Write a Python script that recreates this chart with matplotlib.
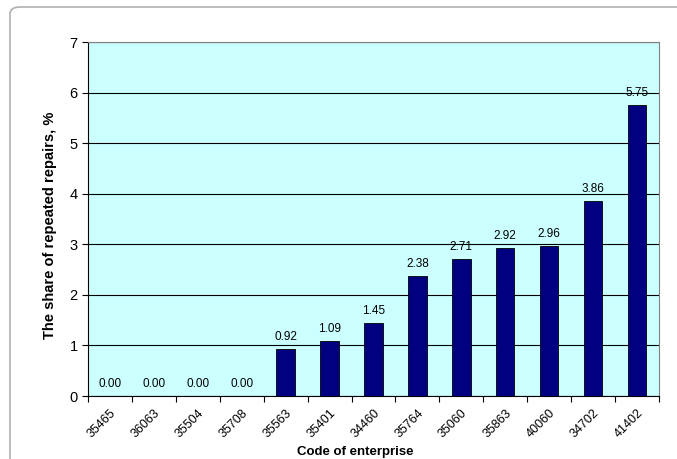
import matplotlib.pyplot as plt
import matplotlib.transforms as mtransforms
from matplotlib.patches import FancyBboxPatch

codes = ['35465', '36063', '35504', '35708', '35563', '35401', '34460',
         '35764', '35060', '35863', '40060', '34702', '41402']
shares = [0.00, 0.00, 0.00, 0.00, 0.92, 1.09, 1.45, 2.38, 2.71, 2.92, 2.96, 3.86, 5.75]

plt.rcParams['font.family'] = ['Liberation Sans', 'DejaVu Sans']

fig = plt.figure(figsize=(6.77, 4.59), dpi=100)

# rounded grey frame around the whole chart
frame = FancyBboxPatch((10 / 677, -0.05), 1.2, 1.05 - 7 / 459,
                       boxstyle='round,pad=0,rounding_size=0.015',
                       transform=fig.transFigure, facecolor='none',
                       edgecolor='#b0b0b0', linewidth=1.2)
fig.patches.append(frame)

ax = fig.add_axes([88 / 677, 1 - 396 / 459, (659 - 88) / 677, (396 - 42) / 459])
ax.set_facecolor('#CCFFFF')

x = list(range(len(codes)))
ax.bar(x, shares, width=0.42, color='#000080', edgecolor='black', linewidth=0.6, zorder=3)

for xi, v in zip(x, shares):
    ax.text(xi, v + 0.12, f'{v:.2f}', ha='center', va='bottom', fontsize=8.5, zorder=4)

ax.set_xlim(-0.5, len(codes) - 0.5)
ax.set_ylim(0, 7)
ax.set_yticks(range(0, 8))
ax.yaxis.grid(True, color='black', linewidth=0.8, zorder=1)
ax.tick_params(axis='y', labelsize=10.5, length=4)
ax.set_xticks([i - 0.5 for i in range(len(codes) + 1)])
ax.set_xticklabels([])
ax.tick_params(axis='x', which='major', length=4)

# rotated category labels ending near the middle of each category
lab_tr = ax.get_xaxis_transform() + mtransforms.ScaledTranslation(3 / 72, -11 / 72, fig.dpi_scale_trans)
for xi, c in zip(x, codes):
    ax.text(xi, 0, c, transform=lab_tr, rotation=45, rotation_mode='anchor',
            ha='right', va='center', fontsize=9)

for s in ['top', 'right']:
    ax.spines[s].set_color('#808080')
ax.spines['left'].set_color('black')
ax.spines['bottom'].set_color('black')

fig.text(355 / 677, 1 - 452 / 459, 'Code of enterprise', fontsize=9.5,
         fontweight='bold', ha='center', va='center')
fig.text(50 / 677, 1 - 225 / 459, 'The share of repeated repairs, %', fontsize=10.5,
         fontweight='bold', rotation=90, ha='center', va='center')

fig.savefig('out.png', dpi=100)
